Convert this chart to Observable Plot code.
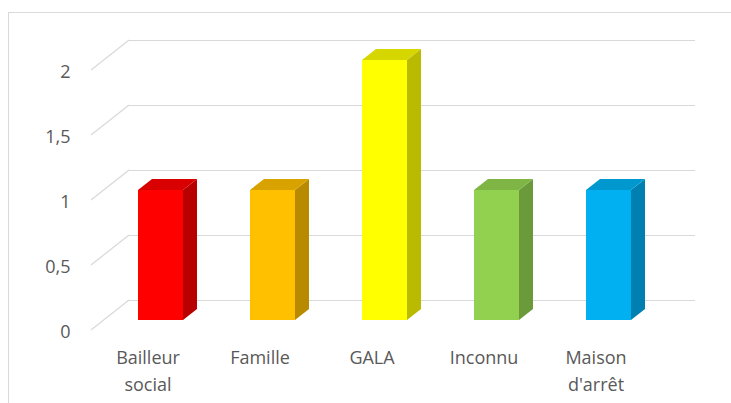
<!DOCTYPE html>
<html><head><meta charset="utf-8">
<script src="https://cdn.jsdelivr.net/npm/d3@7"></script>
<script src="https://cdn.jsdelivr.net/npm/@observablehq/plot@0.6"></script>
<style>
html,body{margin:0;padding:0;background:#fff;overflow:hidden;}
#wrap{position:relative;width:731px;height:403px;}
#border{position:absolute;left:8px;top:12px;width:760px;height:440px;border:1px solid #d9d9d9;box-sizing:border-box;}
#chart{position:absolute;left:0;top:0;}
</style></head><body><div id="wrap"><div id="border"></div><div id="chart"></div></div>
<script>
const categories = ["Bailleur\nsocial", "Famille", "GALA", "Inconnu", "Maison\nd'arrêt"];
const values = [1, 1, 2, 1, 1];
const yTicks = [0, 0.5, 1, 1.5, 2];
const frontColors = ["#ff0000", "#ffc000", "#ffff00", "#92d050", "#00b0f0"];
const sideColors = ["#b80000", "#b88a00", "#baba00", "#6a9a3a", "#0080b0"];
const topColors = ["#d80000", "#d8a300", "#d6d600", "#7fb544", "#0098cf"];

const data = categories.map((c, i) => ({cat: c, value: values[i], front: frontColors[i], side: sideColors[i], top: topColors[i]}));

// oblique projection offsets
const depth = {dx: 14, dy: -11};   // bar depth
const back = {dx: 25, dy: -20};    // back wall relative to bar front plane
const front = {dx: -13, dy: 10};   // floor front edge relative to bar front plane

function bandwidthOf(s) { return typeof s.bandwidth === "function" ? s.bandwidth() : s.bandwidth; }

function bars3d(index, scales, channels, dims) {
  const g = d3.create("svg:g");
  const bw = bandwidthOf(scales.x);
  for (const i of index) {
    const d = data[i];
    const x0 = scales.x(d.cat), x1 = x0 + bw;
    const yb = scales.y(0), yt = scales.y(d.value);
    g.append("polygon").attr("fill", d.side)
      .attr("points", [[x1, yb], [x1, yt], [x1 + depth.dx, yt + depth.dy], [x1 + depth.dx, yb + depth.dy]].join(" "));
    g.append("polygon").attr("fill", d.top)
      .attr("points", [[x0, yt], [x1, yt], [x1 + depth.dx, yt + depth.dy], [x0 + depth.dx, yt + depth.dy]].join(" "));
    g.append("rect").attr("fill", d.front)
      .attr("x", x0).attr("y", yt).attr("width", bw).attr("height", yb - yt);
  }
  return g.node();
}

function diagonal(index, scales, channels, dims) {
  const g = d3.create("svg:g");
  const x0 = dims.marginLeft;
  for (const i of index) {
    const y = scales.y(yTicks[i]);
    g.append("line").attr("stroke", "#d9d9d9").attr("stroke-width", 1.2)
      .attr("x1", x0 + front.dx).attr("y1", y + front.dy)
      .attr("x2", x0 + back.dx).attr("y2", y + back.dy);
  }
  return g.node();
}

const chart = Plot.plot({
  width: 731, height: 403,
  marginLeft: 104, marginRight: 61, marginTop: 60, marginBottom: 83,
  style: {fontFamily: "'Open Sans', sans-serif", fontSize: "18px", color: "#595959", background: "transparent"},
  x: {domain: categories, paddingInner: 0.6, paddingOuter: 0.31, align: 0.47, label: null},
  y: {domain: [0, 2], label: null},
  marks: [
    Plot.ruleY(yTicks, {dx: back.dx, dy: back.dy, stroke: "#d9d9d9", strokeWidth: 1.2, strokeOpacity: 1}),
    Plot.ruleY(yTicks, {render: diagonal}),
    Plot.barY(data, {x: "cat", y: "value", render: bars3d}),
    Plot.axisY(yTicks, {tickSize: 0, tickPadding: 34, dy: 12, tickFormat: t => String(t).replace(".", ",")}),
    Plot.axisX({tickSize: 0, tickPadding: 24, dx: -13, lineHeight: 1.5})
  ]
});
document.getElementById("chart").appendChild(chart);
</script>
</body></html>
